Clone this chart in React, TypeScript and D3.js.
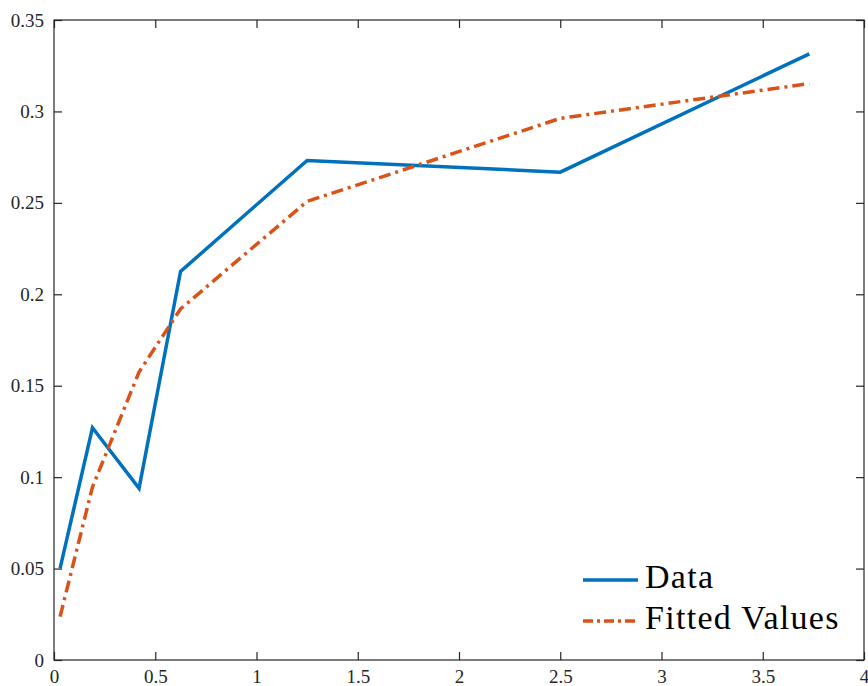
import React, { useEffect, useRef } from "react";
import * as d3 from "d3";

const xValues = [0.03, 0.19, 0.42, 0.625, 1.25, 2.5, 3.73];
const dataValues = [0.0501, 0.127, 0.0939, 0.2125, 0.2732, 0.2668, 0.3315];
const fittedValues = [0.0237, 0.0946, 0.1575, 0.192, 0.2508, 0.2962, 0.3152];
const xTicks = [0, 0.5, 1, 1.5, 2, 2.5, 3, 3.5, 4];
const yTicks = [0, 0.05, 0.1, 0.15, 0.2, 0.25, 0.3, 0.35];
const seriesNames = ["Data", "Fitted Values"];

const App = () => {
  const ref = useRef<SVGSVGElement>(null);

  useEffect(() => {
    const svg = d3.select(ref.current);
    svg.selectAll("*").remove();

    const margin = { top: 20, right: 4, bottom: 26, left: 54 },
      w = 868 - margin.left - margin.right,
      h = 686 - margin.top - margin.bottom;
    const font = "'Liberation Serif', 'DejaVu Serif', serif";
    const axisColor = "#262626";

    const x = d3.scaleLinear().domain([0, 4]).range([0, w]);
    const y = d3.scaleLinear().domain([0, 0.35]).range([h, 0]);

    const g = svg.append("g").attr("transform", `translate(${margin.left}, ${margin.top})`);

    // box with inward ticks on all four sides
    const tickLen = 8;
    const styleAxis = (sel: any) => {
      sel.attr("font-family", font).attr("font-size", 19);
      sel.select(".domain").remove();
      sel.selectAll(".tick line").attr("stroke", axisColor).attr("stroke-width", 1.2);
      sel.selectAll(".tick text")
        .attr("fill", axisColor)
        .style("font-family", font)
        .style("font-size", "19px");
    };

    g.append("g")
      .attr("transform", `translate(0, ${h})`)
      .call(d3.axisBottom(x).tickValues(xTicks).tickFormat(d3.format("")).tickSizeInner(-tickLen).tickPadding(10))
      .call(styleAxis);
    g.append("g")
      .call(d3.axisTop(x).tickValues(xTicks).tickFormat(() => "").tickSizeInner(-tickLen))
      .call(styleAxis);
    g.append("g")
      .call(d3.axisLeft(y).tickValues(yTicks).tickFormat(d3.format("")).tickSizeInner(-tickLen).tickPadding(10))
      .call(styleAxis);
    g.append("g")
      .attr("transform", `translate(${w}, 0)`)
      .call(d3.axisRight(y).tickValues(yTicks).tickFormat(() => "").tickSizeInner(-tickLen))
      .call(styleAxis);

    g.append("rect")
      .attr("width", w)
      .attr("height", h)
      .attr("fill", "none")
      .attr("stroke", axisColor)
      .attr("stroke-width", 1.2);

    const line = d3.line<number>()
      .x((_, i) => x(xValues[i]))
      .y(d => y(d));

    g.append("path")
      .datum(dataValues)
      .attr("d", line)
      .attr("fill", "none")
      .attr("stroke", "#0072BD")
      .attr("stroke-width", 3.5);

    g.append("path")
      .datum(fittedValues)
      .attr("d", line)
      .attr("fill", "none")
      .attr("stroke", "#D95319")
      .attr("stroke-width", 3.5)
      .attr("stroke-dasharray", "12,5,3,5");

    // legend (no box)
    const legend = g.append("g").attr("transform", `translate(${583 - margin.left}, ${580 - margin.top})`);
    const colors = ["#0072BD", "#D95319"];
    const dashes = [null, "10,4,3,4"];
    seriesNames.forEach((name, i) => {
      const row = legend.append("g").attr("transform", `translate(0, ${i * 41})`);
      row.append("line")
        .attr("x1", 0)
        .attr("x2", 55)
        .attr("y1", 0)
        .attr("y2", 0)
        .attr("stroke", colors[i])
        .attr("stroke-width", 3.5)
        .attr("stroke-dasharray", dashes[i]);
      row.append("text")
        .attr("x", 62)
        .attr("y", 8)
        .style("font-family", font)
        .style("font-size", "34px")
        .style("letter-spacing", "1.3px")
        .attr("fill", "#000")
        .text(name);
    });
  }, []);

  return (
    <svg ref={ref} width={868} height={686} style={{ position: "absolute", left: 0, top: 0 }}></svg>
  );
};

export default App;
